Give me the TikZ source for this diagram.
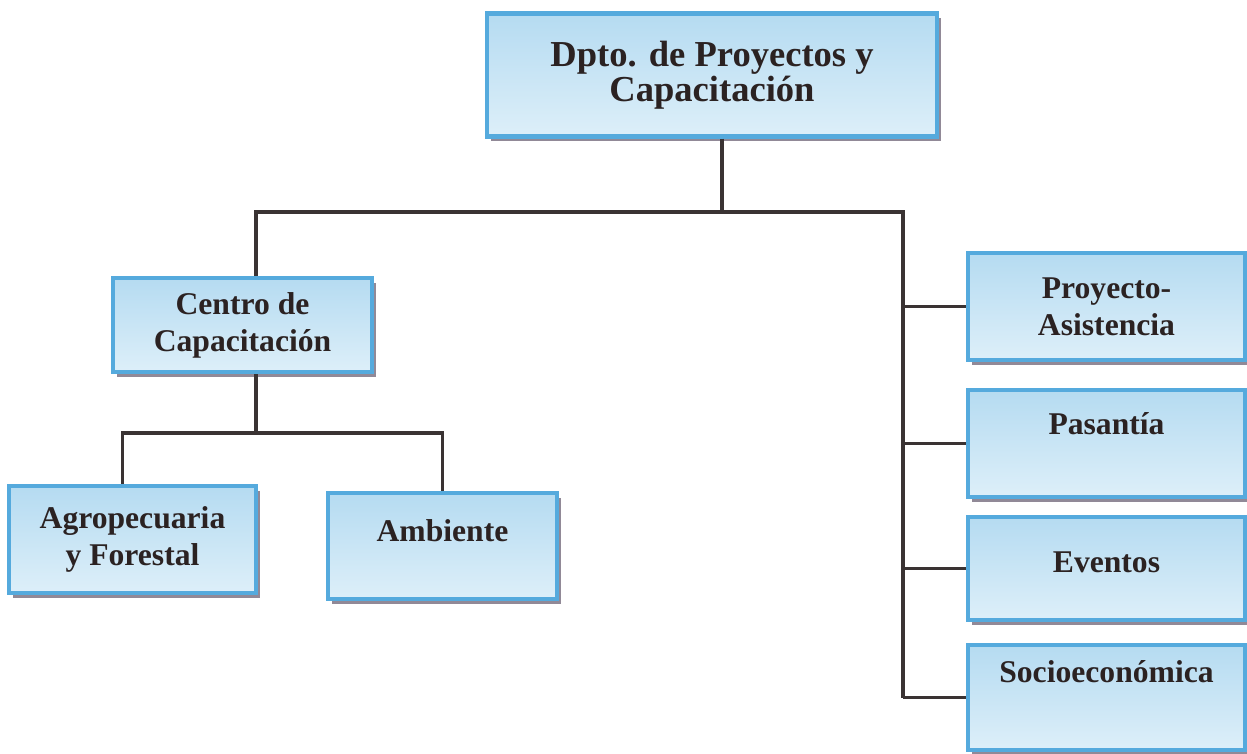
\documentclass[tikz,border=0pt]{standalone}
\usepackage{fontspec}
\setmainfont{Liberation Serif}
\usetikzlibrary{shadows, positioning}
\definecolor{boxline}{HTML}{55AADD}
\definecolor{boxtop}{HTML}{B5DBF1}
\definecolor{boxbot}{HTML}{DDEFF9}
\definecolor{shade}{HTML}{857C8C}
\definecolor{wirecol}{HTML}{3A3333}
\definecolor{ink}{HTML}{2B2222}

\begin{document}
\begin{tikzpicture}[
  unit/.style={draw=boxline, line width=2.4pt, top color=boxtop, bottom color=boxbot,
    drop shadow={shadow xshift=0.08cm, shadow yshift=-0.09cm, fill=shade, opacity=0.9},
    text=ink, align=center, inner sep=2pt, font=\fontsize{18}{21}\selectfont\bfseries},
  lift/.style={text height=0.45cm, text depth=#1},
  wire/.style={draw=wirecol, line width=2pt}]

\useasboundingbox (0,0) rectangle (24.94,-15.06);

% boxes
\node [unit, minimum width=9cm, minimum height=2.46cm, font=\fontsize{20.8}{20}\selectfont\bfseries] (dpto) at (14.24,-1.5) {Dpto. de Proyectos y\\Capacitación};

\node [unit, minimum width=5.18cm, minimum height=1.88cm] (centro) at (4.85,-6.5) {Centro de\\Capacitación};
\node [unit, minimum width=4.94cm, minimum height=2.14cm] (agro) at (2.65,-10.79) {Agropecuaria\\y Forestal};
\node [unit, lift=0.63cm, minimum width=4.58cm, minimum height=2.12cm] (ambiente) at (8.85,-10.92) {Ambiente};

\node [unit, minimum width=5.54cm, minimum height=2.14cm] (proy) at (22.13,-6.13) {Proyecto-\\Asistencia};
\node [unit, lift=0.81cm, minimum width=5.54cm, minimum height=2.14cm] (pasantia) at (22.13,-8.87) {Pasantía};
\node [unit, lift=0.29cm, minimum width=5.54cm, minimum height=2.06cm] (eventos) at (22.13,-11.37) {Eventos};
\node [unit, lift=1.05cm, minimum width=5.54cm, minimum height=2.1cm] (socio) at (22.13,-13.95) {Socioeconómica};

% connectors
\coordinate (hub) at (14.44,-4.24);
\coordinate (lefthub) at (5.12,-4.24);
\coordinate (rail) at (18.06,-4.24);
\coordinate (subhub) at (5.12,-8.66);

\draw [wire] (dpto.south -| hub) -- (hub);
\draw [wire] (centro.north -| lefthub) -- (lefthub) -- (rail) -- (rail |- socio.west);
\foreach \n in {proy, pasantia, eventos, socio}
  \draw [wire] (rail |- \n.west) -- (\n.west);

\draw [wire] (centro.south -| subhub) -- (subhub);
\draw [wire] ([xshift=-0.2cm]agro.north) |- (subhub) -| (ambiente.north);

\end{tikzpicture}
\end{document}
